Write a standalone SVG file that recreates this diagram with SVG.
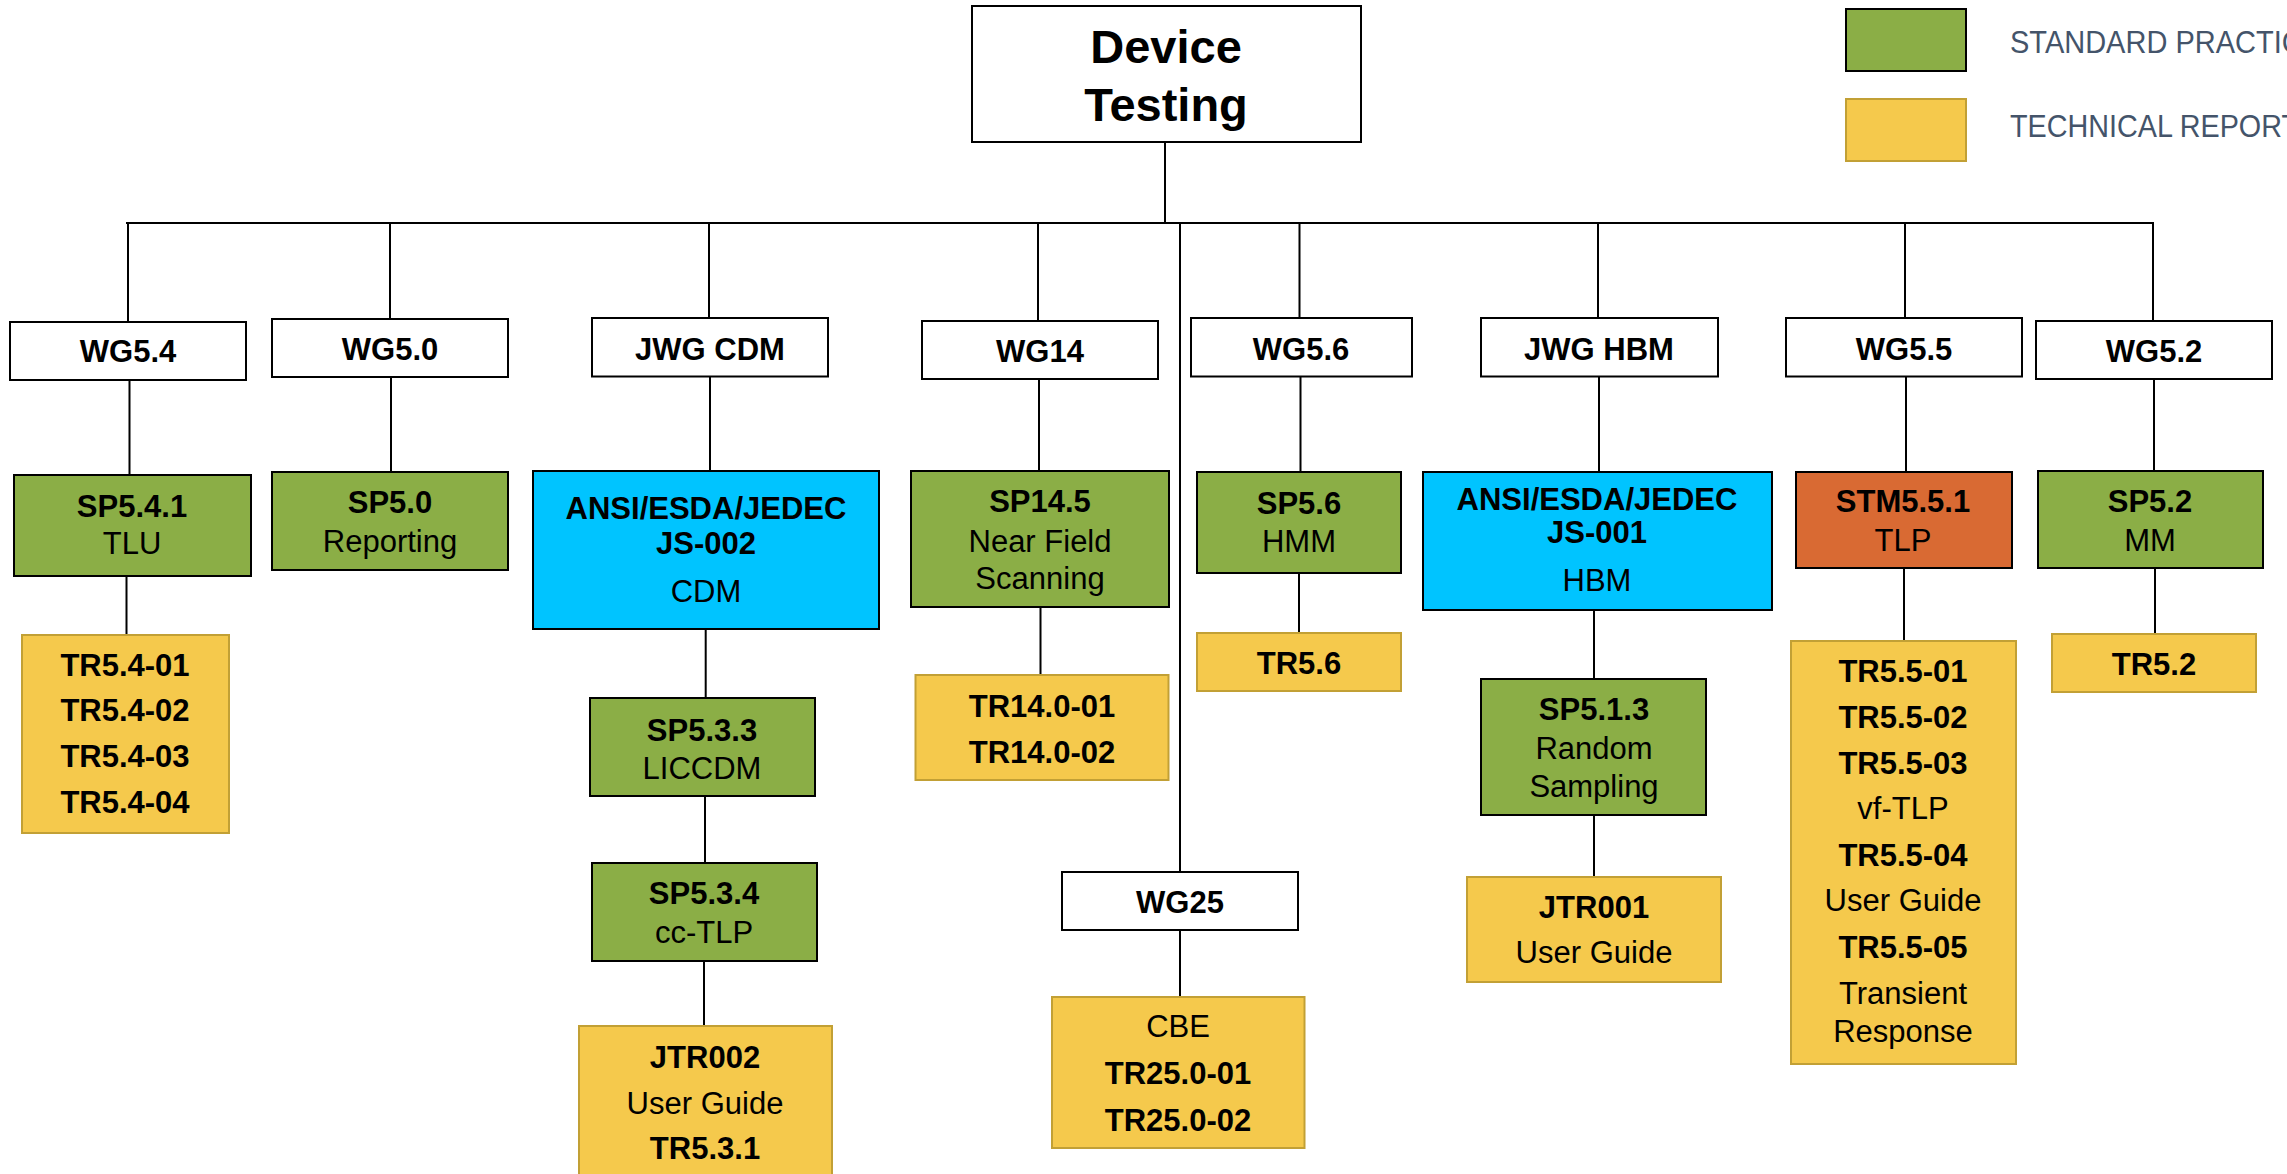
<svg xmlns="http://www.w3.org/2000/svg" width="2287" height="1174" viewBox="0 0 2287 1174">
<style>
text{font-family:"Liberation Sans",Arial,sans-serif;font-size:31px;fill:#000;text-anchor:middle}
.b{font-weight:bold}
.wg{fill:#fff;stroke:#000;stroke-width:2}
.sp{fill:#8BAE46;stroke:#000;stroke-width:2}
.tr{fill:#F5C94C;stroke:#C2A035;stroke-width:2}
.js{fill:#00C4FF;stroke:#000;stroke-width:2}
.stm{fill:#D96A33;stroke:#000;stroke-width:2}
.lg{font-family:"Liberation Sans",Arial,sans-serif;font-size:32px;fill:#44546A;text-anchor:start}
#connectors path{stroke:#000;stroke-width:2;fill:none}
</style>
<rect width="2287" height="1174" fill="#fff"/>
<g id="connectors">
<path d="M1165 142V223"/>
<path d="M126 223H2154"/>
<path d="M128 223V322M390 223V319M709 223V318M1038 223V321M1299.5 223V318M1598 223V318M1905 223V318M2153 223V321"/>
<path d="M1180 223V872"/>
<path d="M129.5 380V475M126.5 576V635"/>
<path d="M391 377V472"/>
<path d="M710 377V471M705.7 629V698M705 796V863M704 961V1026"/>
<path d="M1039 379V471M1040.5 607V675"/>
<path d="M1180 930V997"/>
<path d="M1300.5 377V472M1299 573V633"/>
<path d="M1599 377V472M1594 610V679M1594 815V877"/>
<path d="M1906 377V472M1904 568V641"/>
<path d="M2154 379V471M2155 568V634"/>
</g>
<g id="root">
<rect class="wg" x="972" y="6" width="389" height="136"/>
<text class="b" x="1166" y="63" style="font-size:47px">Device</text>
<text class="b" x="1166" y="120.5" style="font-size:47px">Testing</text>
</g>
<g id="legend">
<rect x="1846" y="9" width="120" height="62" fill="#8BAE46" stroke="#000" stroke-width="2"/>
<rect x="1846" y="99" width="120" height="62" fill="#F5C94C" stroke="#C2A035" stroke-width="2"/>
<text class="lg" x="2010" y="53" textLength="312" lengthAdjust="spacingAndGlyphs">STANDARD PRACTICE</text>
<text class="lg" x="2010" y="137" textLength="289" lengthAdjust="spacingAndGlyphs">TECHNICAL REPORT</text>
</g>
<g id="wg54"><rect class="wg" x="10" y="322" width="236" height="58"/><text class="b" x="128" y="362">WG5.4</text></g>
<g id="wg50"><rect class="wg" x="272" y="319" width="236" height="58"/><text class="b" x="390" y="359.5">WG5.0</text></g>
<g id="jwgcdm"><rect class="wg" x="592" y="318" width="236" height="58.5"/><text class="b" x="710" y="360">JWG CDM</text></g>
<g id="wg14"><rect class="wg" x="922" y="321" width="236" height="58"/><text class="b" x="1040" y="362">WG14</text></g>
<g id="wg56"><rect class="wg" x="1191" y="318" width="221" height="58.5"/><text class="b" x="1301" y="360">WG5.6</text></g>
<g id="jwghbm"><rect class="wg" x="1481" y="318" width="237" height="58.5"/><text class="b" x="1599" y="360">JWG HBM</text></g>
<g id="wg55"><rect class="wg" x="1786" y="318" width="236" height="58.5"/><text class="b" x="1904" y="360">WG5.5</text></g>
<g id="wg52"><rect class="wg" x="2036" y="321" width="236" height="58"/><text class="b" x="2154" y="361.5">WG5.2</text></g>
<g id="wg25"><rect class="wg" x="1062" y="872" width="236" height="58"/><text class="b" x="1180" y="912.5">WG25</text></g>

<g id="sp541"><rect class="sp" x="14" y="475" width="237" height="101"/><text class="b" x="132" y="517">SP5.4.1</text><text x="132" y="554">TLU</text></g>
<g id="tr54"><rect class="tr" x="22" y="635" width="207" height="198"/><text class="b" x="125" y="675.5">TR5.4-01</text><text class="b" x="125" y="721">TR5.4-02</text><text class="b" x="125" y="766.5">TR5.4-03</text><text class="b" x="125" y="812.5">TR5.4-04</text></g>
<g id="sp50"><rect class="sp" x="272" y="472" width="236" height="98"/><text class="b" x="390" y="513">SP5.0</text><text x="390" y="551.5">Reporting</text></g>

<g id="js002"><rect class="js" x="533" y="471" width="346" height="158"/><text class="b" x="706" y="519">ANSI/ESDA/JEDEC</text><text class="b" x="706" y="554">JS-002</text><text x="706" y="602">CDM</text></g>
<g id="sp533"><rect class="sp" x="590" y="698" width="225" height="98"/><text class="b" x="702" y="741">SP5.3.3</text><text x="702" y="778.5">LICCDM</text></g>
<g id="sp534"><rect class="sp" x="592" y="863" width="225" height="98"/><text class="b" x="704" y="904">SP5.3.4</text><text x="704" y="943">cc-TLP</text></g>
<g id="jtr002"><rect class="tr" x="579" y="1026" width="253" height="160"/><text class="b" x="705" y="1067.5">JTR002</text><text x="705" y="1113.5">User Guide</text><text class="b" x="705" y="1159">TR5.3.1</text></g>

<g id="sp145"><rect class="sp" x="911" y="471" width="258" height="136"/><text class="b" x="1040" y="512">SP14.5</text><text x="1040" y="551.5">Near Field</text><text x="1040" y="589">Scanning</text></g>
<g id="tr140"><rect class="tr" x="915.5" y="675" width="253" height="105"/><text class="b" x="1042" y="717">TR14.0-01</text><text class="b" x="1042" y="763">TR14.0-02</text></g>

<g id="cbe"><rect class="tr" x="1052" y="997" width="252.5" height="151"/><text x="1178" y="1037">CBE</text><text class="b" x="1178" y="1084">TR25.0-01</text><text class="b" x="1178" y="1130.5">TR25.0-02</text></g>

<g id="sp56"><rect class="sp" x="1197" y="472" width="204" height="101"/><text class="b" x="1299" y="513.5">SP5.6</text><text x="1299" y="551.5">HMM</text></g>
<g id="tr56"><rect class="tr" x="1197" y="633" width="204" height="58"/><text class="b" x="1299" y="674">TR5.6</text></g>

<g id="js001"><rect class="js" x="1423" y="472" width="349" height="138"/><text class="b" x="1597" y="509.5">ANSI/ESDA/JEDEC</text><text class="b" x="1597" y="543">JS-001</text><text x="1597" y="591">HBM</text></g>
<g id="sp513"><rect class="sp" x="1481" y="679" width="225" height="136"/><text class="b" x="1594" y="719.5">SP5.1.3</text><text x="1594" y="758.5">Random</text><text x="1594" y="796.5">Sampling</text></g>
<g id="jtr001"><rect class="tr" x="1467" y="877" width="254" height="105"/><text class="b" x="1594" y="918">JTR001</text><text x="1594" y="962.5">User Guide</text></g>

<g id="stm551"><rect class="stm" x="1796" y="472" width="216" height="96"/><text class="b" x="1903" y="512">STM5.5.1</text><text x="1903" y="551">TLP</text></g>
<g id="tr55"><rect class="tr" x="1791" y="641" width="225" height="423"/><text class="b" x="1903" y="682">TR5.5-01</text><text class="b" x="1903" y="728">TR5.5-02</text><text class="b" x="1903" y="773.5">TR5.5-03</text><text x="1903" y="819">vf-TLP</text><text class="b" x="1903" y="865.5">TR5.5-04</text><text x="1903" y="911">User Guide</text><text class="b" x="1903" y="957.5">TR5.5-05</text><text x="1903" y="1004">Transient</text><text x="1903" y="1042">Response</text></g>

<g id="sp52"><rect class="sp" x="2038" y="471" width="225" height="97"/><text class="b" x="2150" y="512">SP5.2</text><text x="2150" y="551">MM</text></g>
<g id="tr52"><rect class="tr" x="2052" y="634" width="204" height="58"/><text class="b" x="2154" y="675">TR5.2</text></g>
</svg>
